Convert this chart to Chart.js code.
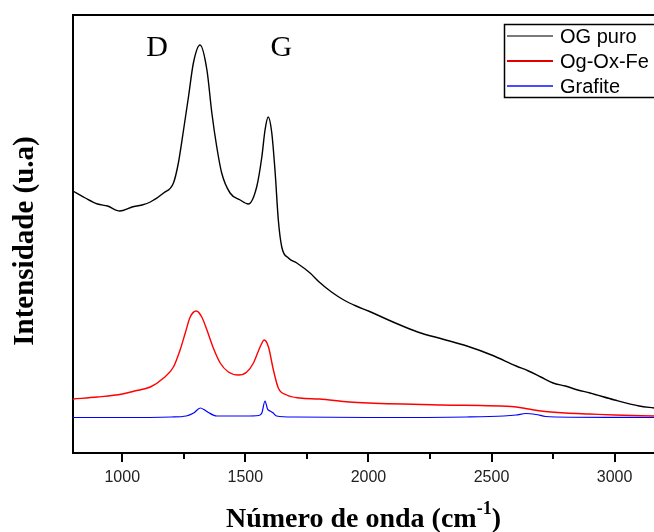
<!DOCTYPE html>
<html>
<head>
<meta charset="utf-8">
<script src="https://cdn.jsdelivr.net/npm/chart.js@4.4.0/dist/chart.umd.min.js"></script>
<style>
    html, body { margin: 0; padding: 0; background: #fff; overflow: hidden; }
    #wrap { width: 654px; height: 532px; position: relative; }
</style>
</head>
<body>
<div id="wrap"><canvas id="chart"></canvas></div>
<script>
// Raman spectra, wavenumber (cm-1) vs intensity (a.u.)
const seriesNames = ["OG puro", "Og-Ox-Fe", "Grafite"];

const ogX = [800, 850, 900, 940, 990, 1040, 1080, 1114, 1168, 1208, 1228, 1249, 1269, 1289, 1316, 1344, 1364, 1384, 1404, 1438, 1479, 1512, 1546, 1567, 1580, 1593, 1607, 1621, 1634, 1648, 1675, 1709, 1763, 1800, 1850, 1900, 1950, 2000, 2100, 2200, 2300, 2400, 2500, 2600, 2650, 2700, 2750, 2800, 2850, 2900, 3000, 3100, 3160];
const ogY = [262, 255, 249, 247, 242, 246, 248, 251, 260, 270, 290, 323, 356, 390, 408, 383, 340, 306, 280, 260, 253, 249, 266, 296, 323, 336, 321, 281, 233, 206, 195, 190, 180, 171, 161, 153, 147, 142, 131, 121, 114, 107, 98, 87, 82, 76, 70, 67, 63, 60, 53, 47, 45];

const feX = [800, 900, 1000, 1050, 1114, 1168, 1208, 1235, 1256, 1276, 1301, 1323, 1344, 1370, 1398, 1431, 1472, 1506, 1533, 1560, 1577, 1594, 1614, 1634, 1668, 1722, 1800, 1923, 2000, 2300, 2600, 2650, 2700, 2800, 2900, 3000, 3160];
const feY = [54, 56, 59, 62, 66, 75, 86, 103, 120, 136, 142, 136, 123, 105, 90, 81, 78, 81, 90, 106, 113, 106, 83, 65, 58, 55, 54, 51, 50, 48, 46, 44, 42, 40, 39, 38, 37];

const grX = [800, 1000, 1200, 1260, 1290, 1317, 1335, 1350, 1384, 1500, 1555, 1567, 1580, 1590, 1600, 1611, 1627, 1700, 2000, 2400, 2550, 2600, 2640, 2680, 2720, 2760, 3160];
const grY = [35.5, 35.5, 36, 37, 40, 45, 43, 40.5, 37, 37, 37.5, 40, 52, 44, 42, 40.5, 37, 36, 35.5, 36, 37, 38, 39.5, 38.5, 36.5, 36, 35.5];

const xTicks = [1000, 1500, 2000, 2500, 3000];
const xMinorTicks = [1250, 1750, 2250, 2750];

const peakLabels = ["D", "G"];
const peakLabelX = [1142, 1646];
const peakLabelY = [405, 405];

const lineColors = ["#000000", "#ff0000", "#0000ff"];
const legendColors = ["#7a7a7a", "#e00000", "#4a4aff"];

const toPoints = (xs, ys) => xs.map((x, i) => ({ x: x, y: ys[i] }));

const decor = {
    id: "decor",
    afterDraw(chart) {
        const ctx = chart.ctx;
        const area = chart.chartArea;
        const xs = chart.scales.x;
        const ys = chart.scales.y;
        ctx.save();

        // top frame line
        ctx.strokeStyle = "#000";
        ctx.lineWidth = 2;
        ctx.beginPath();
        ctx.moveTo(area.left - 1, area.top);
        ctx.lineTo(area.right, area.top);
        ctx.stroke();

        // tick marks below the x axis
        ctx.lineWidth = 2;
        ctx.lineCap = "butt";
        const drawTick = (v, len) => {
            const px = Math.round(xs.getPixelForValue(v));
            ctx.beginPath();
            ctx.moveTo(px, area.bottom);
            ctx.lineTo(px, area.bottom + len);
            ctx.stroke();
        };
        xTicks.forEach(v => drawTick(v, 9));
        xMinorTicks.forEach(v => drawTick(v, 6));

        // D / G band labels
        ctx.fillStyle = "#000";
        ctx.font = "30px 'Liberation Serif', 'Times New Roman', serif";
        ctx.textAlign = "center";
        ctx.textBaseline = "middle";
        peakLabels.forEach((t, i) => {
            ctx.fillText(t, xs.getPixelForValue(peakLabelX[i]), ys.getPixelForValue(peakLabelY[i]));
        });

        // x axis title with superscript
        const big = "bold 28px 'Liberation Serif', 'Times New Roman', serif";
        const small = "bold 18px 'Liberation Serif', 'Times New Roman', serif";
        ctx.textAlign = "left";
        ctx.textBaseline = "alphabetic";
        const main = "Número de onda (cm";
        const sup = "-1";
        const close = ")";
        ctx.font = big;
        const wMain = ctx.measureText(main).width;
        const wClose = ctx.measureText(close).width;
        ctx.font = small;
        const wSup = ctx.measureText(sup).width;
        const tx = (area.left + area.right) / 2 - (wMain + wSup + wClose) / 2;
        const baseY = 527;
        ctx.font = big;
        ctx.fillText(main, tx, baseY);
        ctx.font = small;
        ctx.fillText(sup, tx + wMain, baseY - 13);
        ctx.font = big;
        ctx.fillText(close, tx + wMain + wSup, baseY);

        // y axis title
        ctx.save();
        ctx.translate(26, (area.top + area.bottom) / 2 + 7);
        ctx.rotate(-Math.PI / 2);
        ctx.textAlign = "center";
        ctx.textBaseline = "middle";
        ctx.font = "bold 29px 'Liberation Serif', 'Times New Roman', serif";
        ctx.fillText("Intensidade (u.a)", 0, 0);
        ctx.restore();

        // legend box
        const lx = 504, ly = 24, lh = 73;
        ctx.fillStyle = "#fff";
        ctx.fillRect(lx, ly, 200, lh);
        ctx.strokeStyle = "#000";
        ctx.lineWidth = 1.5;
        ctx.strokeRect(lx + 0.5, ly + 0.5, 200, lh);
        ctx.font = "20px 'Liberation Sans', Arial, sans-serif";
        ctx.textAlign = "left";
        ctx.textBaseline = "middle";
        chart.data.datasets.forEach((ds, i) => {
            const ry = ly + 12 + i * 25;
            ctx.strokeStyle = legendColors[i];
            ctx.lineWidth = 2;
            ctx.beginPath();
            ctx.moveTo(lx + 3, ry);
            ctx.lineTo(lx + 49, ry);
            ctx.stroke();
            ctx.fillStyle = "#000";
            ctx.fillText(ds.label, lx + 56, ry + 1);
        });

        ctx.restore();
    }
};

new Chart(document.getElementById("chart"), {
    type: "line",
    data: {
        datasets: [
            { label: seriesNames[0], data: toPoints(ogX, ogY), borderColor: lineColors[0], borderWidth: 1.4, pointRadius: 0, cubicInterpolationMode: "monotone" },
            { label: seriesNames[1], data: toPoints(feX, feY), borderColor: lineColors[1], borderWidth: 1.4, pointRadius: 0, cubicInterpolationMode: "monotone" },
            { label: seriesNames[2], data: toPoints(grX, grY), borderColor: lineColors[2], borderWidth: 1.2, pointRadius: 0, cubicInterpolationMode: "monotone" }
        ]
    },
    options: {
        responsive: true,
        maintainAspectRatio: false,
        animation: false,
        layout: { padding: { top: 15, left: 0, right: 0, bottom: 0 } },
        plugins: { legend: { display: false }, tooltip: { enabled: false } },
        scales: {
            x: {
                type: "linear",
                min: 800,
                max: 3160,
                afterBuildTicks: s => { s.ticks = xTicks.map(v => ({ value: v })); },
                afterFit: s => { s.height = 79; },
                grid: { display: false, drawTicks: false },
                border: { display: true, color: "#000", width: 2 },
                ticks: {
                    padding: 15,
                    color: "#222",
                    font: { family: "'Liberation Sans', Arial, sans-serif", size: 16 },
                    callback: v => String(v)
                }
            },
            y: {
                min: 0,
                max: 438,
                afterFit: s => { s.width = 73; },
                grid: { display: false, drawTicks: false },
                border: { display: true, color: "#000", width: 2 },
                ticks: { display: false }
            }
        }
    },
    plugins: [decor]
});
</script>
</body>
</html>
